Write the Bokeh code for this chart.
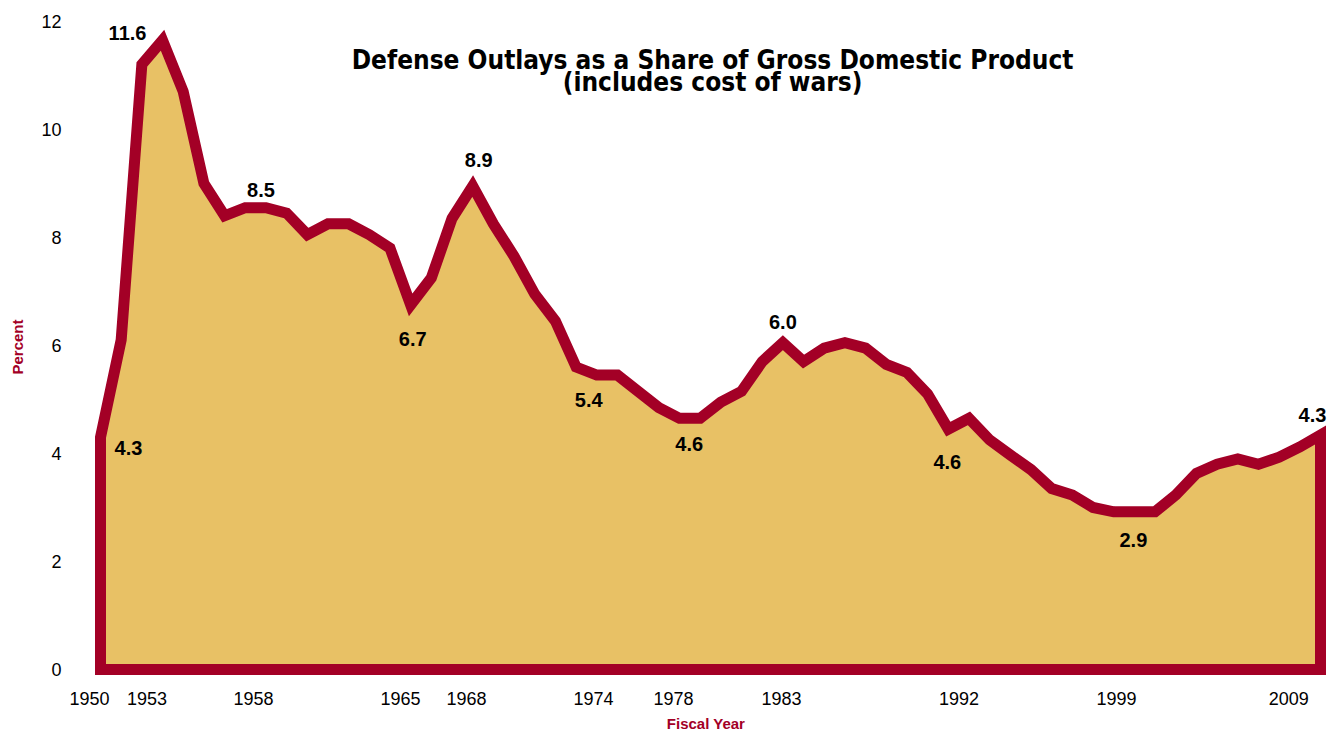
from bokeh.plotting import figure
from bokeh.models import Range1d, FixedTicker, ColumnDataSource, Label
from bokeh.core.properties import value
from bokeh.embed import file_html
from bokeh.resources import INLINE

# ---- data ----
years = list(range(1950, 2010))
share = [4.3, 6.1, 11.2, 11.65, 10.7, 9.0, 8.4, 8.55, 8.55, 8.45,
         8.05, 8.25, 8.25, 8.05, 7.8, 6.75, 7.25, 8.35, 8.95, 8.25,
         7.65, 6.95, 6.45, 5.6, 5.45, 5.45, 5.15, 4.85, 4.65, 4.65,
         4.95, 5.15, 5.7, 6.05, 5.7, 5.95, 6.05, 5.95, 5.65, 5.5,
         5.1, 4.45, 4.65, 4.25, 3.97, 3.7, 3.35, 3.23, 3.0, 2.92,
         2.92, 2.92, 3.23, 3.63, 3.8, 3.9, 3.8, 3.93, 4.12, 4.34]

label_years = [1950, 1953, 1958, 1965, 1968, 1974, 1979, 1983, 1991, 2000, 2009]
label_text = ["4.3", "11.6", "8.5", "6.7", "8.9", "5.4", "4.6", "6.0", "4.6", "2.9", "4.3"]

tick_labels = ["1950", "1953", "1958", "1965", "1968", "1974", "1978", "1983", "1992", "1999", "2009"]
y_ticks = [0, 2, 4, 6, 8, 10, 12]

title_1 = "Defense Outlays as a Share of Gross Domestic Product"
title_2 = "(includes cost of wars)"

# ---- layout (pixel offsets of labels, tick label placement) ----
label_dx = [28, -35, -5, 2, 6, -8, -11, 0, -1, -1, -8]
label_dy = [11, -7, -18, 34, -26, 25, 26, -21, 33, 28, -20]
tick_pos = [1949.47, 1952.25, 1957.40, 1964.51, 1967.70, 1973.84,
            1977.71, 1982.93, 1991.52, 1999.14, 2007.46]
title_x = 1979.6
title_y1, title_y2 = 11.28, 10.87

RED = "#A30026"
FILL = "#E8C165"
TITLE_FONT = "DejaVu Sans Condensed"

x0, x1 = 1949.033, 2009.532
y0, y1 = -0.222, 12.163

p = figure(width=1341, height=734, output_backend="svg", toolbar_location=None,
           x_range=Range1d(x0, x1), y_range=Range1d(y0, y1),
           min_border_left=80, min_border_right=10, min_border_top=12, min_border_bottom=52)
p.background_fill_color = "white"
p.border_fill_color = "white"
p.outline_line_color = None
p.xgrid.visible = False
p.ygrid.visible = False

# area polygon with thick outline
xs = [years[0]] + years + [years[-1]]
ys = [0] + share + [0]
p.patch(xs, ys, fill_color=FILL, line_color=RED, line_width=11, line_join="miter")

# data labels
ly = [share[years.index(yr)] for yr in label_years]
src = ColumnDataSource(dict(x=label_years, y=ly, t=label_text, dx=label_dx, dy=label_dy))
p.text(x="x", y="y", text="t", x_offset="dx", y_offset="dy", source=src,
       text_align="center", text_baseline="middle",
       text_font=value("Liberation Sans"), text_font_size="20px",
       text_font_style="bold", text_color="black")

# title (drawn inside the plot area)
for ty, tt in ((title_y1, title_1), (title_y2, title_2)):
    p.add_layout(Label(x=title_x, y=ty, text=tt, text_align="center",
                       text_baseline="alphabetic", text_font=TITLE_FONT,
                       text_font_size="26px", text_font_style="bold", text_color="black"))

# axes
for ax in (p.xaxis[0], p.yaxis[0]):
    ax.axis_line_color = None
    ax.major_tick_line_color = None
    ax.minor_tick_line_color = None
    ax.major_tick_out = 0
    ax.major_tick_in = 0
    ax.minor_tick_out = 0
    ax.major_label_text_font = "Liberation Sans"
    ax.major_label_text_font_size = "18px"
    ax.major_label_text_color = "black"
    ax.axis_label_text_font = "Liberation Sans"
    ax.axis_label_text_font_size = "15px"
    ax.axis_label_text_font_style = "bold"
    ax.axis_label_text_color = RED

p.xaxis.ticker = FixedTicker(ticks=tick_pos)
p.xaxis.major_label_overrides = {tp: lab for tp, lab in zip(tick_pos, tick_labels)}
p.xaxis.major_label_standoff = 10
p.xaxis.axis_label = "Fiscal Year"
p.xaxis.axis_label_standoff = 7

p.yaxis.ticker = FixedTicker(ticks=y_ticks)
p.yaxis.major_label_standoff = 19
p.yaxis.axis_label = "Percent"
p.yaxis.axis_label_standoff = 12

open("out.html", "w").write(file_html(p, INLINE))
